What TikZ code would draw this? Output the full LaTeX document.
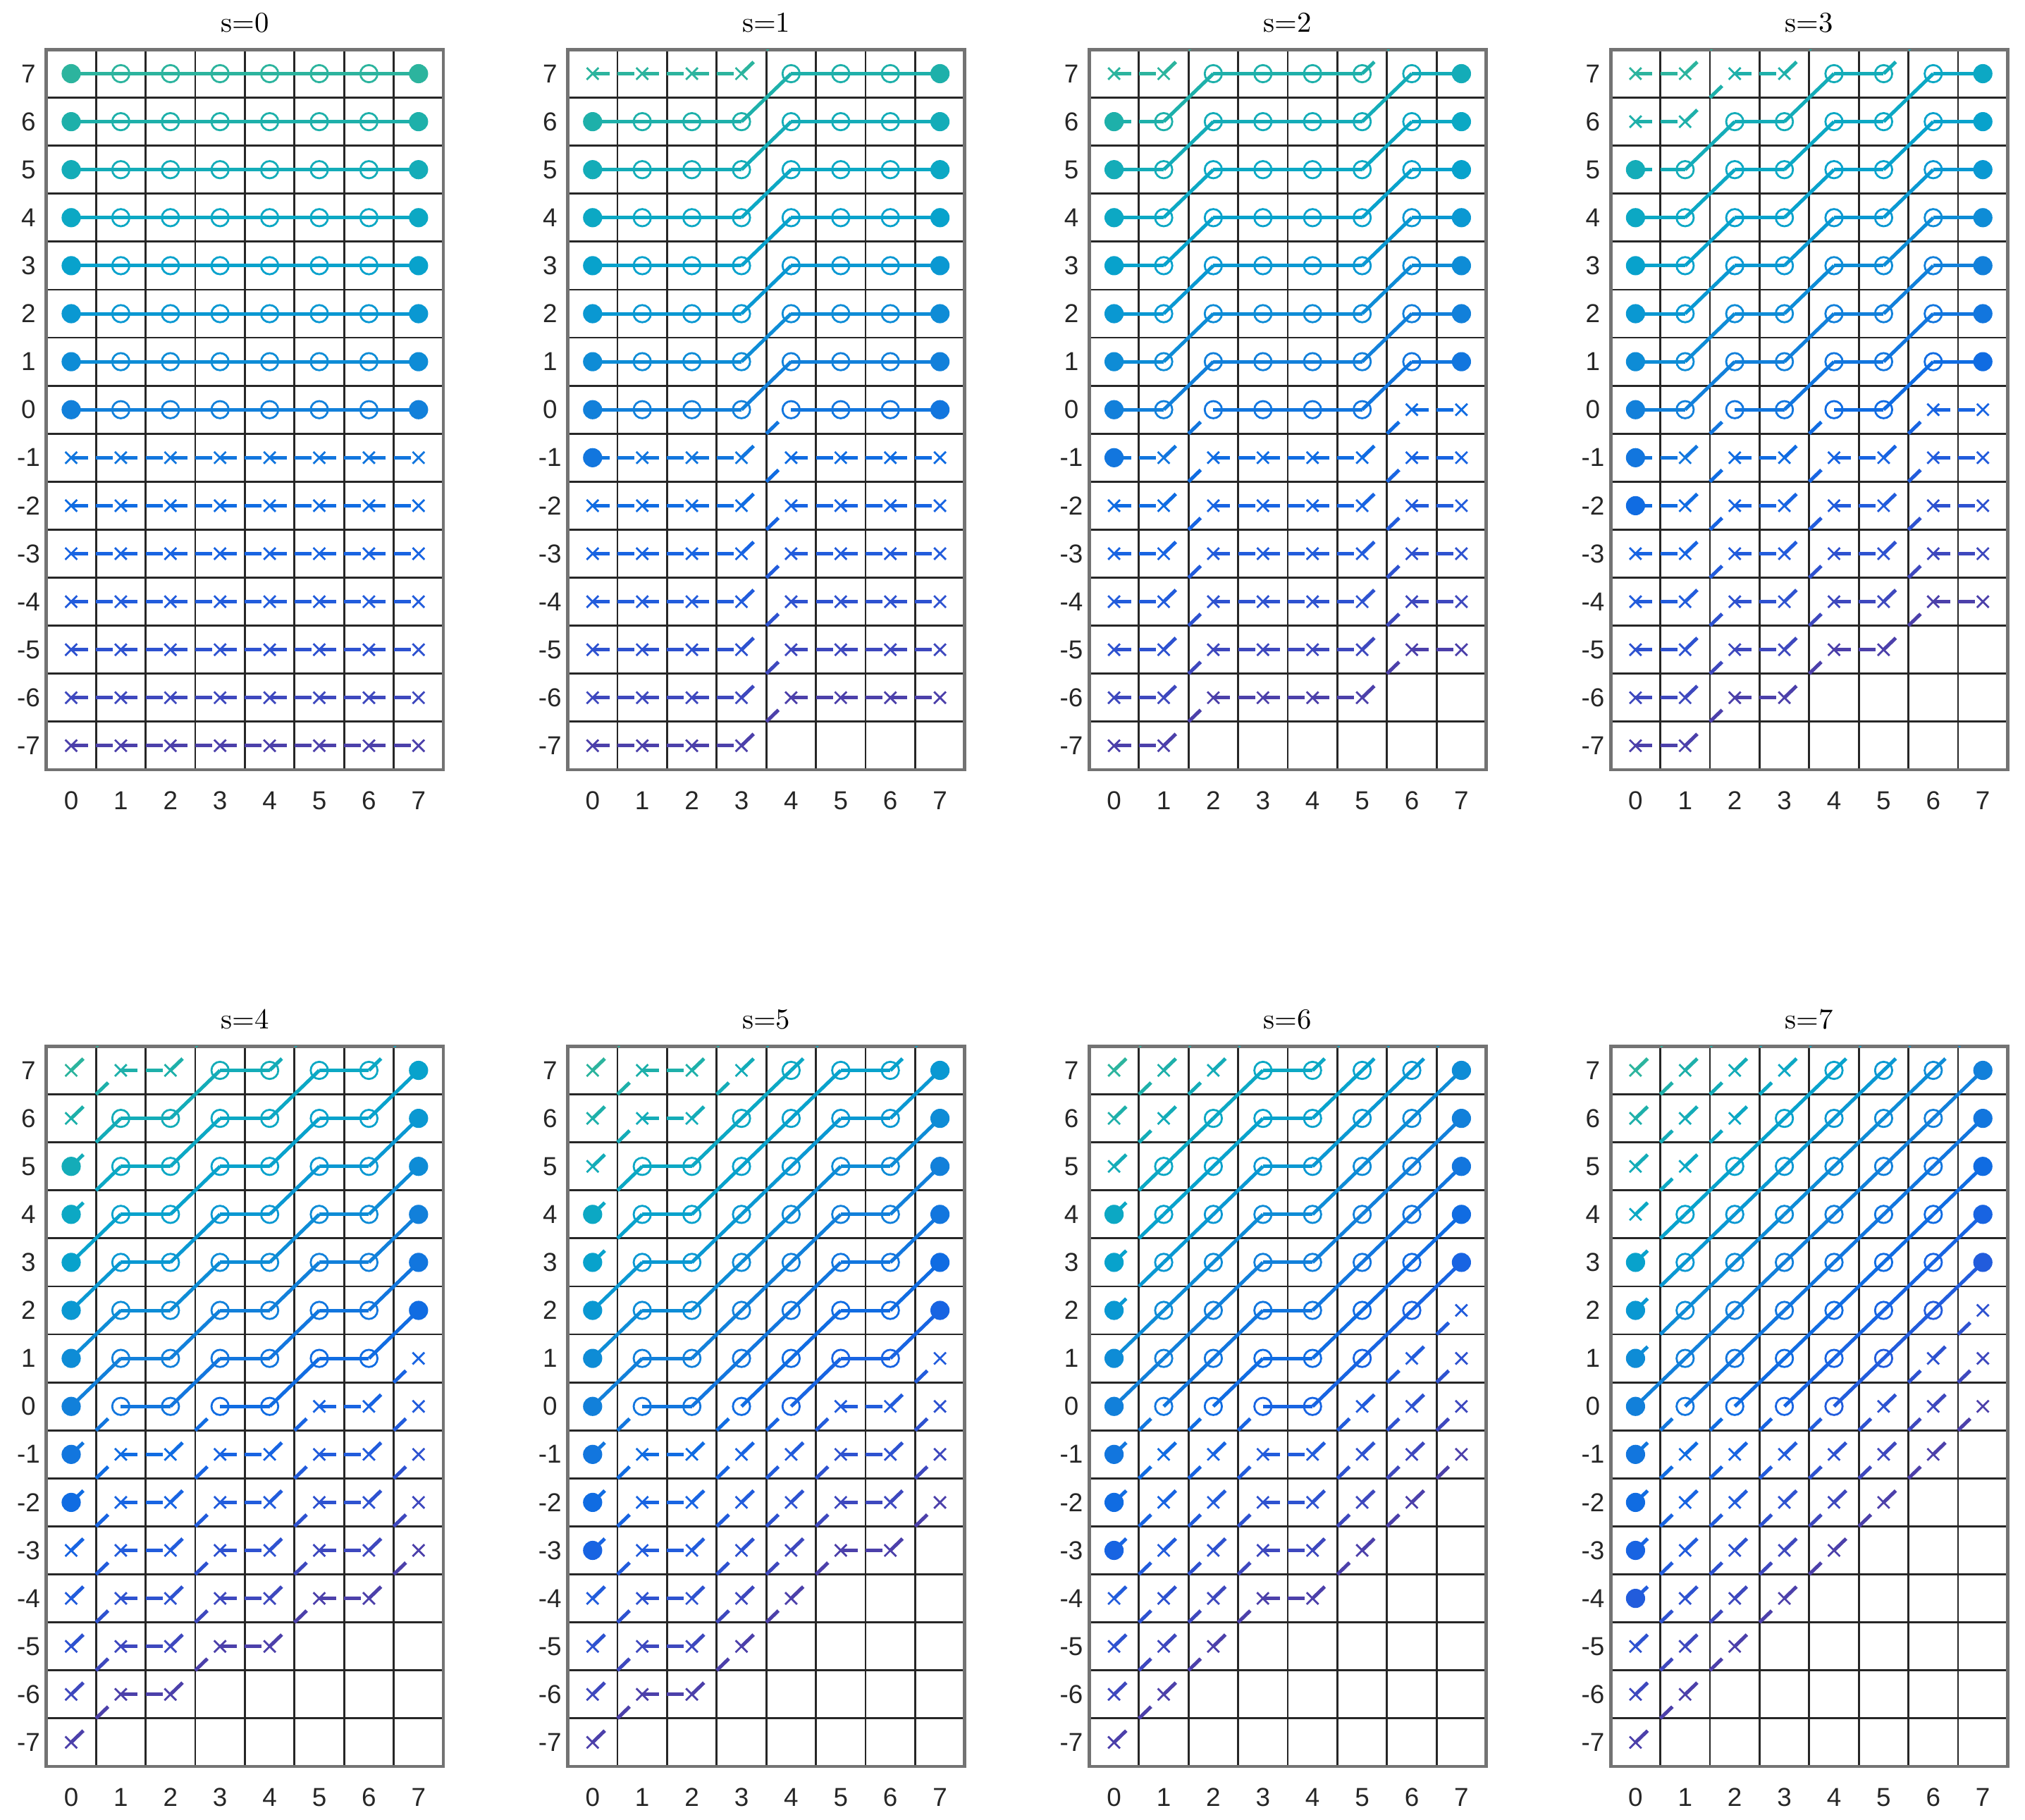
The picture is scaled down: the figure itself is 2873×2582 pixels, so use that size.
\documentclass[tikz,border=0pt]{standalone}
\usepackage{fontspec}
\setsansfont{Liberation Sans}
\usetikzlibrary{calc}
\definecolor{tc0}{RGB}{76,64,170}
\definecolor{tc1}{RGB}{62,72,190}
\definecolor{tc2}{RGB}{46,82,208}
\definecolor{tc3}{RGB}{34,92,220}
\definecolor{tc4}{RGB}{24,100,226}
\definecolor{tc5}{RGB}{16,108,226}
\definecolor{tc6}{RGB}{18,118,222}
\definecolor{tc7}{RGB}{18,128,218}
\definecolor{tc8}{RGB}{14,140,214}
\definecolor{tc9}{RGB}{10,152,210}
\definecolor{tc10}{RGB}{8,162,204}
\definecolor{tc11}{RGB}{12,168,196}
\definecolor{tc12}{RGB}{20,172,184}
\definecolor{tc13}{RGB}{30,176,170}
\definecolor{tc14}{RGB}{44,180,158}
\tikzset{
  gridln/.style={draw=black!85, line width=0.7pt},
  boxln/.style={draw=black!55, line width=1.2pt},
  seg/.style={line width=1.25pt, line cap=butt},
  ticklab/.style={font=\sffamily\fontsize{9.2}{11}\selectfont, text=black!85, inner sep=0pt},
  titlelab/.style={font=\fontsize{10.2}{12}\selectfont, inner sep=0pt},
  mkline/.style={line width=0.7pt},
}
\begin{document}
\begin{tikzpicture}[x=0.25pt,y=-0.25pt]
\useasboundingbox (0,0) rectangle (2873,2582);
\foreach \s in {0,...,7}{
  \pgfmathtruncatemacro\pc{mod(\s,4)}
  \pgfmathtruncatemacro\pr{int(\s/4)}
  \pgfmathsetmacro\ox{101+739.8*\pc}
  \pgfmathsetmacro\oy{581.2+1414*\pr}
  \pgfmathtruncatemacro\c{ceil(\s/2)}
  \begin{scope}[shift={(\ox,\oy)},x=17.6pt,y=17.025pt]
    % grid
    \foreach \i in {0,...,6} \draw[gridln] (\i+0.5,-7.5) -- (\i+0.5,7.5);
    \foreach \j in {-7,...,6} \draw[gridln] (-0.5,\j+0.5) -- (7.5,\j+0.5);
    \draw[boxln] (-0.5,-7.5) rectangle (7.5,7.5);
    % labels
    \foreach \j [count=\n] in {-7,...,7} \node[ticklab] (yl\s\n) at (-0.86,\j) {\j};
    \foreach \i in {0,...,7} \node[ticklab] (xl\s\i) at (\i,-8.14) {\i};
    \node[titlelab] (title\s) at (3.5,8.06) {s=\s};
    % data
    \begin{scope}
      \clip (-0.5,-7.5) rectangle (7.5,7.5);
      \foreach \vz in {-7,...,7}{
        \pgfmathtruncatemacro\ci{\vz+7}
        \pgfmathtruncatemacro\act{and(\vz>-\c-1,\vz<8-\c)}
        \pgfmathtruncatemacro\inW{and(\vz+\s>-1,\vz+\s<8)}
        \foreach \k in {0,...,6}{
          \pgfmathtruncatemacro\va{\vz+round(\s*\k/7)}
          \pgfmathtruncatemacro\vb{\vz+round(\s*(\k+1)/7)}
          \pgfmathtruncatemacro\inA{and(\va>-1,\va<8)}
          \pgfmathtruncatemacro\inB{and(\vb>-1,\vb<8)}
          \pgfmathtruncatemacro\circA{and(\act,or(\k==0,\inA))}
          \pgfmathtruncatemacro\circB{and(\act,or(\k==6,\inB))}
          \pgfmathtruncatemacro\Osol{and(and(\circA,\inA),and(\inB,or(\k>0,\inW)))}
          \pgfmathtruncatemacro\Isol{and(\circB,and(\inA,\inB))}
          \pgfmathsetmacro\vm{(\va+\vb)/2}
          \ifnum\Osol=1
            \draw[seg,color=tc\ci] (\k,\va) -- (\k+0.5,\vm);
          \else
            \draw[seg,color=tc\ci] (\k,\va) -- ($(\k,\va)!6pt!(\k+0.5,\vm)$);
          \fi
          \ifnum\Isol=1
            \draw[seg,color=tc\ci] (\k+0.5,\vm) -- (\k+1,\vb);
          \else
            \draw[seg,color=tc\ci] (\k+0.5,\vm) -- ($(\k+0.5,\vm)!6pt!(\k+1,\vb)$);
          \fi
        }
        \foreach \k in {0,...,7}{
          \pgfmathtruncatemacro\va{\vz+round(\s*\k/7)}
          \ifnum\va<8
            \pgfmathtruncatemacro\inA{and(\va>-1,\va<8)}
            \pgfmathtruncatemacro\edge{or(\k==0,\k==7)}
            \pgfmathtruncatemacro\mk{\act*(\edge*2+(1-\edge)*\inA)}
            \ifcase\mk
              \draw[mkline,color=tc\ci] ([shift={(-2.1pt,-2.1pt)}]\k,\va) -- ([shift={(2.1pt,2.1pt)}]\k,\va)
                ([shift={(-2.1pt,2.1pt)}]\k,\va) -- ([shift={(2.1pt,-2.1pt)}]\k,\va);
            \or
              \draw[mkline,color=tc\ci] (\k,\va) circle[radius=3.05pt];
            \or
              \fill[color=tc\ci] (\k,\va) circle[radius=3.4pt];
            \fi
          \fi
        }
      }
    \end{scope}
  \end{scope}
}
\end{tikzpicture}
\end{document}
